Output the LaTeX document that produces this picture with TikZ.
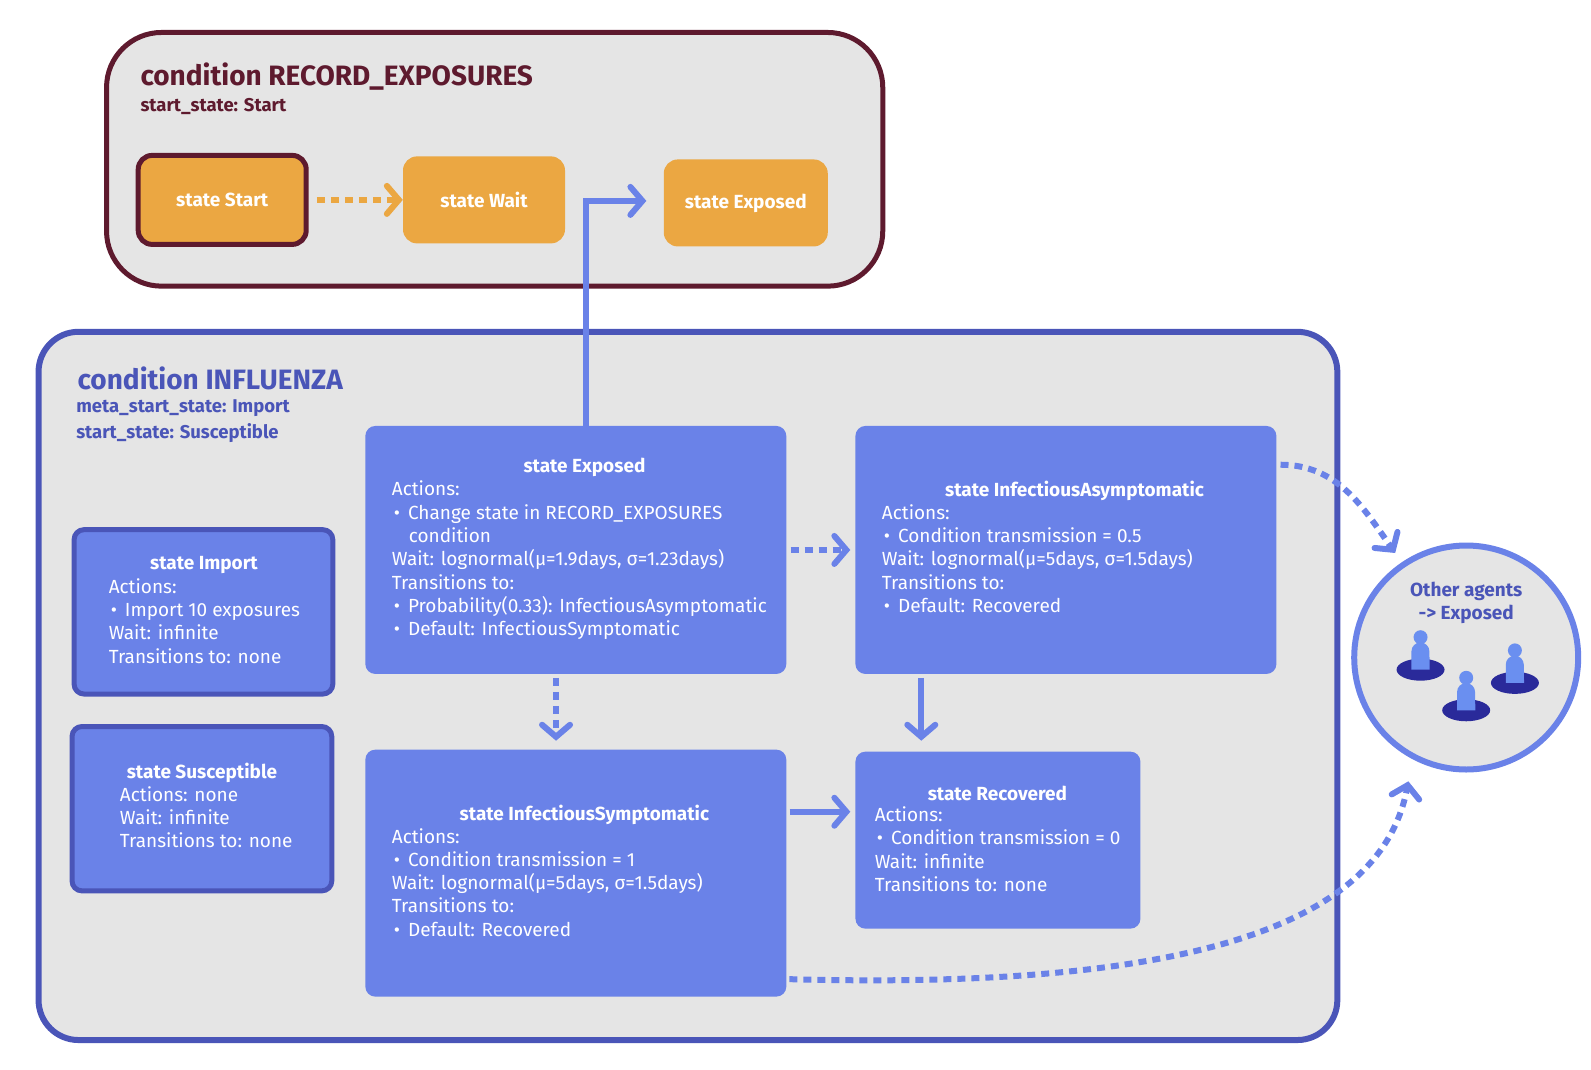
\documentclass[tikz,border=0pt]{standalone}
\usepackage{fontspec}
\setmainfont{Fira Sans}
\usetikzlibrary{arrows.meta,positioning}
\definecolor{boxgray}{HTML}{E5E5E5}
\definecolor{wine}{HTML}{5E1A2E}
\definecolor{amber}{HTML}{EBA742}
\definecolor{navy}{HTML}{4A55B8}
\definecolor{azure}{HTML}{6A82E8}
\definecolor{ink}{HTML}{2A2A9A}
\definecolor{skin}{HTML}{6A8FF0}
\tikzset{
  cond/.style={draw, fill=boxgray, line width=5pt, rounded corners=55pt},
  ostate/.style={fill=amber, rounded corners=14pt, text=white, font=\bfseries\fontsize{19}{22}\selectfont},
  bstate/.style={fill=azure, rounded corners=10pt},
  ttl/.style={text=white, font=\bfseries\fontsize{19}{23}\selectfont},
  body/.style={text=white, align=left, anchor=north west, inner sep=0pt, font=\fontsize{19}{23.3}\selectfont},
  flow/.style={draw=azure, line width=6pt, -{Straight Barb[length=12pt,width=28pt,line cap=round]}},
  dflow/.style={flow, dash pattern=on 8pt off 6pt},
  oflow/.style={draw=amber, line width=6pt, dash pattern=on 8pt off 6pt, -{Straight Barb[length=12pt,width=28pt,line cap=round]}},
}
\newcommand{\itm}{\hspace*{2pt}•\hspace*{8pt}}
\begin{document}
\begin{tikzpicture}[x=1.0147pt, y=-1.0147pt]
  \useasboundingbox (0,0) rectangle (1568,1054.5);
  % condition RECORD_EXPOSURES
  \draw[cond, draw=wine] (105,32) rectangle (870,282);
  \node[anchor=west, text=wine, font=\bfseries\fontsize{28}{32}\selectfont] (rtitle) at (135,75) {condition RECORD\_EXPOSURES};
  \node[anchor=west, text=wine, font=\bfseries\fontsize{18.5}{22}\selectfont] (rstart) at (135,105) {start\_state: Start};
  \node[ostate, minimum width=168pt, minimum height=89pt, draw=wine, line width=5pt] (start) at (219,197) {state Start};
  \node[ostate, minimum width=162pt, minimum height=87pt] (wait) at (477,197) {state Wait};
  \node[ostate, minimum width=164pt, minimum height=87pt] (rexp) at (735,200) {state Exposed};
  \draw[oflow] (start.east) ++(8,0) coordinate (s1) -- (wait.west |- s1) coordinate (s2);
  % condition INFLUENZA
  \draw[cond, draw=navy, line width=6pt, rounded corners=40pt] (38,327) rectangle (1318,1025);
  \node[anchor=west, text=navy, font=\bfseries\fontsize{28}{32}\selectfont] (ititle) at (73,373) {condition INFLUENZA};
  \node[anchor=north west, inner sep=0pt, text=navy, align=left, font=\bfseries\fontsize{18.5}{26}\selectfont] (istart) at (75,394) {meta\_start\_state: Import\\start\_state: Susceptible};
  % states
  \draw[bstate, draw=navy, line width=5pt] (73,522) rectangle (328,684);
  \node[ttl] (impt) at (201,557) {state Import};
  \node[body] (impb) at (107,570) {Actions:\\\itm Import 10 exposures\\Wait: infinite\\Transitions to: none};
  \draw[bstate, draw=navy, line width=5pt] (71,716) rectangle (327,878);
  \node[ttl] (susct) at (199,762) {state Susceptible};
  \node[body] (suscb) at (118,775) {Actions: none\\Wait: infinite\\Transitions to: none};
  \node[bstate, minimum width=421pt, minimum height=248pt] (exp) at (567.5,542) {};
  \node[ttl] at (576,461) {state Exposed};
  \node[body] (expb) at (386,474) {Actions:\\\itm Change state in RECORD\_EXPOSURES\\\hspace*{17pt}condition\\Wait: lognormal(μ=1.9days, σ=1.23days)\\Transitions to:\\\itm Probability(0.33): InfectiousAsymptomatic\\\itm Default: InfectiousSymptomatic};
  \node[bstate, minimum width=421pt, minimum height=248pt] (asym) at (1050.5,542) {};
  \node[ttl] at (1059,484) {state InfectiousAsymptomatic};
  \node[body] (asymb) at (869,497) {Actions:\\\itm Condition transmission = 0.5\\Wait: lognormal(μ=5days, σ=1.5days)\\Transitions to:\\\itm Default: Recovered};
  \node[bstate, minimum width=421pt, minimum height=247pt] (sym) at (567.5,860.5) {};
  \node[ttl] at (576,803) {state InfectiousSymptomatic};
  \node[body] (symb) at (386,816) {Actions:\\\itm Condition transmission = 1\\Wait: lognormal(μ=5days, σ=1.5days)\\Transitions to:\\\itm Default: Recovered};
  \node[bstate, minimum width=285pt, minimum height=177pt] (rec) at (983.5,828) {};
  \node[ttl] at (983,782) {state Recovered};
  \node[body] (recb) at (862,795) {Actions:\\\itm Condition transmission = 0\\Wait: infinite\\Transitions to: none};
  % other agents
  \node[circle, draw=azure, fill=boxgray, line width=6pt, minimum size=224pt] (agents) at (1445,648) {};
  \node[text=navy, align=center, font=\bfseries\fontsize{19}{23.3}\selectfont] (agt) at (1445,594) {Other agents\\-> Exposed};
  \foreach \px/\py in {1400/660, 1445/700, 1493/673}{
    \fill[ink] (\px,\py) ellipse (24pt and 11pt);
    \fill[skin] (\px-9,\py) -- (\px-9,\py-18) arc[start angle=180, end angle=0, radius=9pt] -- (\px+9,\py) -- cycle;
    \fill[skin] (\px,\py-32) circle (7pt);
  }
  % transitions
  \draw[flow] (exp.north -| 578,0) -- (578,198) -- (637,198);
  \draw[dflow] (exp.east |- 0,542) ++(4,0) -- (838,542);
  \draw[dflow] (548,668) -- (548,730);
  \draw[flow] (908,668) -- (908,730);
  \draw[flow] (sym.east |- 0,800) ++(3,0) -- (838,800);
  \draw[dflow] (1262,458) to[out=0, in=125] (1375,545);
  \draw[dflow] (778,965) .. controls (1150,975) and (1360,920) .. (1388,770);
\end{tikzpicture}
\end{document}
